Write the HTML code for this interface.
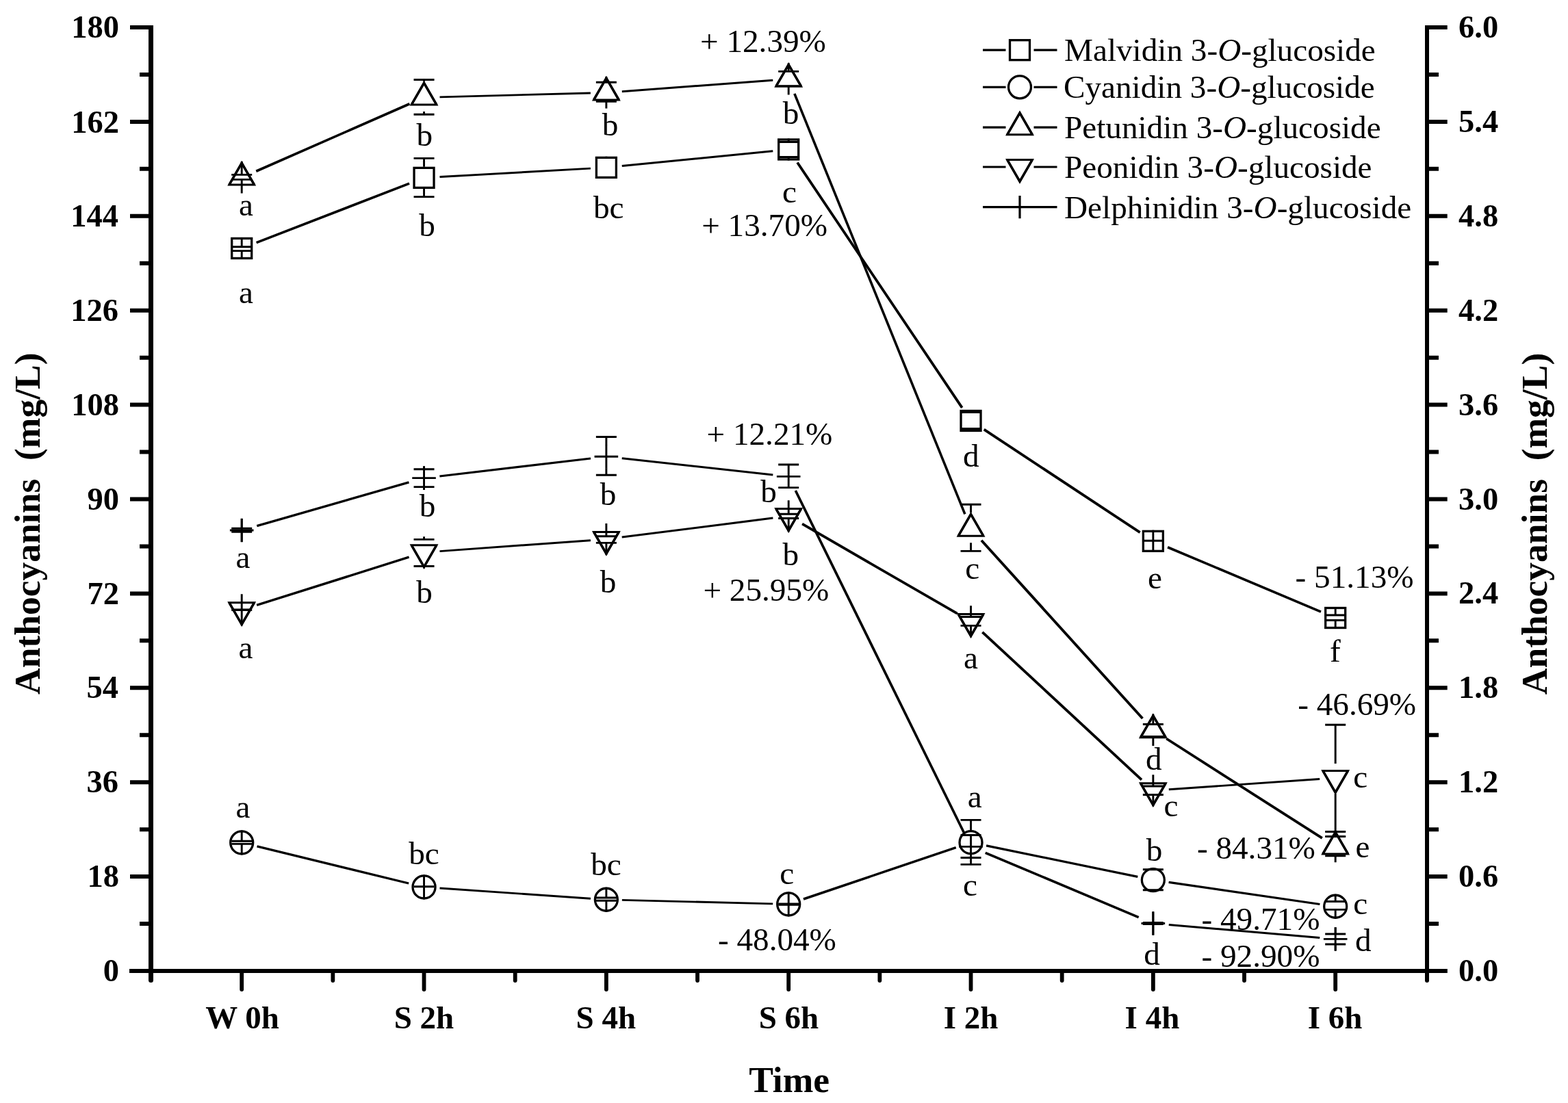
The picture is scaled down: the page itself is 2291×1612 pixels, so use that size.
<!DOCTYPE html>
<html><head><meta charset="utf-8"><title>Anthocyanins chart</title>
<style>html,body{margin:0;padding:0;background:#fff;} svg{display:block;}</style></head>
<body><svg width="2291" height="1612" viewBox="0 0 2291 1612">
<rect width="2291" height="1612" fill="#fff"/>
<g stroke="#000" fill="none">
<path d="M220.5 37V1419" stroke-width="7"/>
<path d="M2085 37V1419" stroke-width="6"/>
<path d="M189 1419H2114.5" stroke-width="6"/>
<path d="M190 40H221M2085 40H2114.7M190 177.9H221M2085 177.9H2114.7M190 315.8H221M2085 315.8H2114.7M190 453.7H221M2085 453.7H2114.7M190 591.6H221M2085 591.6H2114.7M190 729.5H221M2085 729.5H2114.7M190 867.4H221M2085 867.4H2114.7M190 1005.3H221M2085 1005.3H2114.7M190 1143.2H221M2085 1143.2H2114.7M190 1281.1H221M2085 1281.1H2114.7M190 1419H221M2085 1419H2114.7M204 108.95H221M2085 108.95H2102M204 246.85H221M2085 246.85H2102M204 384.75H221M2085 384.75H2102M204 522.65H221M2085 522.65H2102M204 660.55H221M2085 660.55H2102M204 798.45H221M2085 798.45H2102M204 936.35H221M2085 936.35H2102M204 1074.25H221M2085 1074.25H2102M204 1212.15H221M2085 1212.15H2102M204 1350.05H221M2085 1350.05H2102" stroke-width="6"/>
<path d="M353.2 1419V1446M619.53 1419V1446M885.86 1419V1446M1152.19 1419V1446M1418.52 1419V1446M1684.85 1419V1446M1951.18 1419V1446M486.36 1419V1433M752.69 1419V1433M1019.02 1419V1433M1285.35 1419V1433M1551.68 1419V1433M1818.01 1419V1433" stroke-width="5.8" stroke-linecap="round"/>
<path d="M220.5 1419V1432.5" stroke-width="7" stroke-linecap="round"/>
<path d="M2085 1419V1433" stroke-width="6" stroke-linecap="round"/>
</g>
<g stroke="#000" fill="none"><path d="M374.65 354.65L598.08 268.15" stroke-width="3.56"/><path d="M642.49 258.56L862.9 246.14" stroke-width="2.90"/><path d="M908.75 242.58L1129.3 220.72" stroke-width="3.01"/><path d="M1165.01 237.54L1405.7 595.86" stroke-width="3.82"/><path d="M1437.71 627.63L1665.66 778.17" stroke-width="3.81"/><path d="M1706.05 799.78L1929.98 894.07" stroke-width="3.60"/></g>
<g stroke="#000" fill="none"><path d="M375.54 1236.86L597.19 1290.99" stroke-width="3.32"/><path d="M642.48 1298.03L862.91 1313.17" stroke-width="2.93"/><path d="M908.85 1315.32L1129.2 1320.83" stroke-width="2.82"/><path d="M1173.97 1314.02L1396.74 1238.53" stroke-width="3.49"/><path d="M1441.05 1235.8L1662.32 1281.45" stroke-width="3.25"/><path d="M1707.61 1289.4L1928.42 1321.45" stroke-width="3.12"/></g>
<g stroke="#000" fill="none"><path d="M374.26 250.25L598.47 151.75" stroke-width="3.62"/><path d="M642.52 141.89L862.87 136.01" stroke-width="2.82"/><path d="M908.8 133.69L1129.25 117.31" stroke-width="2.95"/><path d="M1160.83 136.92L1409.88 751.38" stroke-width="3.58"/><path d="M1433.95 789.76L1669.42 1050.04" stroke-width="3.88"/><path d="M1704.23 1079.49L1931.8 1224.96" stroke-width="3.80"/></g>
<g stroke="#000" fill="none"><path d="M375.13 884.38L597.6 814.22" stroke-width="3.45"/><path d="M642.47 805.64L862.92 789.66" stroke-width="2.94"/><path d="M908.68 785.1L1129.37 757.1" stroke-width="3.07"/><path d="M1172.1 765.71L1398.61 896.69" stroke-width="3.76"/><path d="M1435.38 923.84L1667.99 1139.66" stroke-width="3.89"/><path d="M1707.8 1153.72L1928.23 1138.58" stroke-width="2.93"/></g>
<g stroke="#000" fill="none"><path d="M375.31 768.66L597.42 704.94" stroke-width="3.40"/><path d="M642.37 695.92L863.02 669.98" stroke-width="3.05"/><path d="M908.72 669.8L1129.33 693.9" stroke-width="3.03"/><path d="M1162.35 717.04L1408.36 1216.76" stroke-width="3.68"/><path d="M1439.72 1246.32L1663.65 1340.58" stroke-width="3.60"/><path d="M1707.77 1351.47L1928.26 1370.43" stroke-width="2.98"/></g>
<rect x="338.7" y="348.45" width="29" height="29" fill="#fff" stroke="#000" stroke-width="3.3"/>
<path d="M353.2 346.95V360.7M353.2 366.6V378.95M338.2 360.7H368.2M338.2 366.6H368.2" stroke="#000" stroke-width="2.9" fill="none"/>
<rect x="605.03" y="245.35" width="29" height="29" fill="#fff" stroke="#000" stroke-width="3.3"/>
<path d="M619.53 231.4V243.85M619.53 275.85V287.6M604.53 231.4H634.53M604.53 287.6H634.53" stroke="#000" stroke-width="2.9" fill="none"/>
<rect x="871.36" y="230.35" width="29" height="29" fill="#fff" stroke="#000" stroke-width="3.3"/>
<path d="M885.86 228.85V230.35M885.86 259.35V260.85M870.86 230.35H900.86M870.86 259.35H900.86" stroke="#000" stroke-width="2.9" fill="none"/>
<rect x="1137.69" y="203.95" width="29" height="29" fill="#fff" stroke="#000" stroke-width="3.3"/>
<path d="M1152.19 202.45V207.5M1152.19 229.5V234.45M1137.19 207.5H1167.19M1137.19 229.5H1167.19" stroke="#000" stroke-width="2.9" fill="none"/>
<rect x="1404.02" y="600.45" width="29" height="29" fill="#fff" stroke="#000" stroke-width="3.3"/>
<path d="M1418.52 598.95V602.5M1418.52 626.5V630.95M1403.52 602.5H1433.52M1403.52 626.5H1433.52" stroke="#000" stroke-width="2.9" fill="none"/>
<rect x="1670.35" y="776.35" width="29" height="29" fill="#fff" stroke="#000" stroke-width="3.3"/>
<path d="M1684.85 774.85V790.3M1684.85 790.3V806.85M1669.85 790.3H1699.85M1669.85 790.3H1699.85" stroke="#000" stroke-width="2.9" fill="none"/>
<rect x="1936.68" y="888.5" width="29" height="29" fill="#fff" stroke="#000" stroke-width="3.3"/>
<path d="M1951.18 887V899M1951.18 906.5V919M1936.18 899H1966.18M1936.18 906.5H1966.18" stroke="#000" stroke-width="2.9" fill="none"/>
<circle cx="353.2" cy="1231.4" r="16.5" fill="#fff" stroke="#000" stroke-width="3.3"/>
<path d="M353.2 1213.4V1229.3M353.2 1233.4V1249.4M338.2 1229.3H368.2M338.2 1233.4H368.2" stroke="#000" stroke-width="2.9" fill="none"/>
<circle cx="619.53" cy="1296.45" r="16.5" fill="#fff" stroke="#000" stroke-width="3.3"/>
<path d="M619.53 1278.45V1295.8M619.53 1295.8V1314.45M604.53 1295.8H634.53M604.53 1295.8H634.53" stroke="#000" stroke-width="2.9" fill="none"/>
<circle cx="885.86" cy="1314.75" r="16.5" fill="#fff" stroke="#000" stroke-width="3.3"/>
<path d="M885.86 1296.75V1312M885.86 1316.2V1332.75M870.86 1312H900.86M870.86 1316.2H900.86" stroke="#000" stroke-width="2.9" fill="none"/>
<circle cx="1152.19" cy="1321.4" r="16.5" fill="#fff" stroke="#000" stroke-width="3.3"/>
<path d="M1152.19 1303.4V1320.9M1152.19 1322.4V1339.4M1137.19 1320.9H1167.19M1137.19 1322.4H1167.19" stroke="#000" stroke-width="2.9" fill="none"/>
<circle cx="1418.52" cy="1231.15" r="16.5" fill="#fff" stroke="#000" stroke-width="3.3"/>
<path d="M1418.52 1198.4V1213.15M1418.52 1249.15V1263.4M1403.52 1198.4H1433.52M1403.52 1263.4H1433.52" stroke="#000" stroke-width="2.9" fill="none"/>
<circle cx="1684.85" cy="1286.1" r="16.5" fill="#fff" stroke="#000" stroke-width="3.3"/>
<path d="M1684.85 1268.1V1270.8M1684.85 1300.8V1304.1M1669.85 1270.8H1699.85M1669.85 1300.8H1699.85" stroke="#000" stroke-width="2.9" fill="none"/>
<circle cx="1951.18" cy="1324.75" r="16.5" fill="#fff" stroke="#000" stroke-width="3.3"/>
<path d="M1951.18 1306.75V1317.5M1951.18 1329.4V1342.75M1936.18 1317.5H1966.18M1936.18 1329.4H1966.18" stroke="#000" stroke-width="2.9" fill="none"/>
<polygon points="353.2,238.3 334.84,270.1 371.56,270.1" fill="#fff" stroke="#000" stroke-width="3" stroke-linejoin="miter" stroke-miterlimit="10"/><path d="M334.84 270.1L353.2 238.3L371.56 270.1" fill="none" stroke="#000" stroke-width="3.5" stroke-linejoin="miter" stroke-miterlimit="10"/>
<path d="M353.2 236V255.4M353.2 262.4V282.5M338.2 255.4H368.2M338.2 262.4H368.2" stroke="#000" stroke-width="2.9" fill="none"/>
<polygon points="619.53,121.3 601.17,153.1 637.89,153.1" fill="#fff" stroke="#000" stroke-width="3" stroke-linejoin="miter" stroke-miterlimit="10"/><path d="M601.17 153.1L619.53 121.3L637.89 153.1" fill="none" stroke="#000" stroke-width="3.5" stroke-linejoin="miter" stroke-miterlimit="10"/>
<path d="M619.53 116.5V119M619.53 163V167.3M604.53 116.5H634.53M604.53 167.3H634.53" stroke="#000" stroke-width="2.9" fill="none"/>
<polygon points="885.86,114.2 867.5,146 904.22,146" fill="#fff" stroke="#000" stroke-width="3" stroke-linejoin="miter" stroke-miterlimit="10"/><path d="M867.5 146L885.86 114.2L904.22 146" fill="none" stroke="#000" stroke-width="3.5" stroke-linejoin="miter" stroke-miterlimit="10"/>
<path d="M885.86 111.9V120.2M885.86 148.2V158.4M870.86 120.2H900.86M870.86 148.2H900.86" stroke="#000" stroke-width="2.9" fill="none"/>
<polygon points="1152.19,94.4 1133.83,126.2 1170.55,126.2" fill="#fff" stroke="#000" stroke-width="3" stroke-linejoin="miter" stroke-miterlimit="10"/><path d="M1133.83 126.2L1152.19 94.4L1170.55 126.2" fill="none" stroke="#000" stroke-width="3.5" stroke-linejoin="miter" stroke-miterlimit="10"/>
<path d="M1152.19 92.1V104.4M1152.19 125.6V138.6M1137.19 104.4H1167.19M1137.19 125.6H1167.19" stroke="#000" stroke-width="2.9" fill="none"/>
<polygon points="1418.52,751.5 1400.16,783.3 1436.88,783.3" fill="#fff" stroke="#000" stroke-width="3" stroke-linejoin="miter" stroke-miterlimit="10"/><path d="M1400.16 783.3L1418.52 751.5L1436.88 783.3" fill="none" stroke="#000" stroke-width="3.5" stroke-linejoin="miter" stroke-miterlimit="10"/>
<path d="M1418.52 737.3V749.2M1418.52 793.2V805.4M1403.52 737.3H1433.52M1403.52 805.4H1433.52" stroke="#000" stroke-width="2.9" fill="none"/>
<polygon points="1684.85,1045.9 1666.49,1077.7 1703.21,1077.7" fill="#fff" stroke="#000" stroke-width="3" stroke-linejoin="miter" stroke-miterlimit="10"/><path d="M1666.49 1077.7L1684.85 1045.9L1703.21 1077.7" fill="none" stroke="#000" stroke-width="3.5" stroke-linejoin="miter" stroke-miterlimit="10"/>
<path d="M1684.85 1043.6V1058.5M1684.85 1076.5V1090.1M1669.85 1058.5H1699.85M1669.85 1076.5H1699.85" stroke="#000" stroke-width="2.9" fill="none"/>
<polygon points="1951.18,1216.15 1932.82,1247.95 1969.54,1247.95" fill="#fff" stroke="#000" stroke-width="3" stroke-linejoin="miter" stroke-miterlimit="10"/><path d="M1932.82 1247.95L1951.18 1216.15L1969.54 1247.95" fill="none" stroke="#000" stroke-width="3.5" stroke-linejoin="miter" stroke-miterlimit="10"/>
<path d="M1951.18 1213.85V1222.5M1951.18 1250.8V1260.35M1936.18 1222.5H1966.18M1936.18 1250.8H1966.18" stroke="#000" stroke-width="2.9" fill="none"/>
<polygon points="353.2,912.5 334.84,880.7 371.56,880.7" fill="#fff" stroke="#000" stroke-width="3" stroke-linejoin="miter" stroke-miterlimit="10"/><path d="M334.84 880.7L353.2 912.5L371.56 880.7" fill="none" stroke="#000" stroke-width="3.5" stroke-linejoin="miter" stroke-miterlimit="10"/>
<path d="M353.2 868.3V891M353.2 891.6V914.3M338.2 891H368.2M338.2 891.6H368.2" stroke="#000" stroke-width="2.9" fill="none"/>
<polygon points="619.53,828.5 601.17,796.7 637.89,796.7" fill="#fff" stroke="#000" stroke-width="3" stroke-linejoin="miter" stroke-miterlimit="10"/><path d="M601.17 796.7L619.53 828.5L637.89 796.7" fill="none" stroke="#000" stroke-width="3.5" stroke-linejoin="miter" stroke-miterlimit="10"/>
<path d="M619.53 784.3V788.4M619.53 827.5V830.3M604.53 788.4H634.53M604.53 827.5H634.53" stroke="#000" stroke-width="2.9" fill="none"/>
<polygon points="885.86,809.2 867.5,777.4 904.22,777.4" fill="#fff" stroke="#000" stroke-width="3" stroke-linejoin="miter" stroke-miterlimit="10"/><path d="M867.5 777.4L885.86 809.2L904.22 777.4" fill="none" stroke="#000" stroke-width="3.5" stroke-linejoin="miter" stroke-miterlimit="10"/>
<path d="M885.86 765V783.7M885.86 793.4V811M870.86 783.7H900.86M870.86 793.4H900.86" stroke="#000" stroke-width="2.9" fill="none"/>
<polygon points="1152.19,775.4 1133.83,743.6 1170.55,743.6" fill="#fff" stroke="#000" stroke-width="3" stroke-linejoin="miter" stroke-miterlimit="10"/><path d="M1133.83 743.6L1152.19 775.4L1170.55 743.6" fill="none" stroke="#000" stroke-width="3.5" stroke-linejoin="miter" stroke-miterlimit="10"/>
<path d="M1152.19 731.2V751.3M1152.19 757.5V777.2M1137.19 751.3H1167.19M1137.19 757.5H1167.19" stroke="#000" stroke-width="2.9" fill="none"/>
<polygon points="1418.52,929.4 1400.16,897.6 1436.88,897.6" fill="#fff" stroke="#000" stroke-width="3" stroke-linejoin="miter" stroke-miterlimit="10"/><path d="M1400.16 897.6L1418.52 929.4L1436.88 897.6" fill="none" stroke="#000" stroke-width="3.5" stroke-linejoin="miter" stroke-miterlimit="10"/>
<path d="M1418.52 885.2V901.5M1418.52 914.4V931.2M1403.52 901.5H1433.52M1403.52 914.4H1433.52" stroke="#000" stroke-width="2.9" fill="none"/>
<polygon points="1684.85,1176.5 1666.49,1144.7 1703.21,1144.7" fill="#fff" stroke="#000" stroke-width="3" stroke-linejoin="miter" stroke-miterlimit="10"/><path d="M1666.49 1144.7L1684.85 1176.5L1703.21 1144.7" fill="none" stroke="#000" stroke-width="3.5" stroke-linejoin="miter" stroke-miterlimit="10"/>
<path d="M1684.85 1132.3V1149M1684.85 1161.5V1178.3M1669.85 1149H1699.85M1669.85 1161.5H1699.85" stroke="#000" stroke-width="2.9" fill="none"/>
<polygon points="1951.18,1158.2 1932.82,1126.4 1969.54,1126.4" fill="#fff" stroke="#000" stroke-width="3" stroke-linejoin="miter" stroke-miterlimit="10"/><path d="M1932.82 1126.4L1951.18 1158.2L1969.54 1126.4" fill="none" stroke="#000" stroke-width="3.5" stroke-linejoin="miter" stroke-miterlimit="10"/>
<path d="M1951.18 1059.2V1116M1951.18 1160V1215.5M1936.18 1059.2H1966.18M1936.18 1215.5H1966.18" stroke="#000" stroke-width="2.9" fill="none"/>
<path d="M335.9 775H370.5M353.2 757.7V792.3" stroke="#000" stroke-width="2.9" fill="none"/>
<path d="M353.2 758V772.3M353.2 777.3V792M338.2 772.3H368.2M338.2 777.3H368.2" stroke="#000" stroke-width="2.9" fill="none"/>
<path d="M602.23 698.6H636.83M619.53 681.3V715.9" stroke="#000" stroke-width="2.9" fill="none"/>
<path d="M619.53 681.6V685.7M619.53 711.6V715.6M604.53 685.7H634.53M604.53 711.6H634.53" stroke="#000" stroke-width="2.9" fill="none"/>
<path d="M868.56 667.3H903.16M885.86 650V684.6" stroke="#000" stroke-width="2.9" fill="none"/>
<path d="M885.86 638.5V650.3M885.86 684.3V694.2M870.86 638.5H900.86M870.86 694.2H900.86" stroke="#000" stroke-width="2.9" fill="none"/>
<path d="M1134.89 696.4H1169.49M1152.19 679.1V713.7" stroke="#000" stroke-width="2.9" fill="none"/>
<path d="M1152.19 679V679.4M1152.19 712.6V713.4M1137.19 679H1167.19M1137.19 712.6H1167.19" stroke="#000" stroke-width="2.9" fill="none"/>
<path d="M1401.22 1237.4H1435.82M1418.52 1220.1V1254.7" stroke="#000" stroke-width="2.9" fill="none"/>
<path d="M1418.52 1220.4V1220.5M1418.52 1253.5V1254.4M1403.52 1220.5H1433.52M1403.52 1253.5H1433.52" stroke="#000" stroke-width="2.9" fill="none"/>
<path d="M1667.55 1349.5H1702.15M1684.85 1332.2V1366.8" stroke="#000" stroke-width="2.9" fill="none"/>
<path d="M1684.85 1332.5V1348.5M1684.85 1350.5V1366.5M1669.85 1348.5H1699.85M1669.85 1350.5H1699.85" stroke="#000" stroke-width="2.9" fill="none"/>
<path d="M1933.88 1372.4H1968.48M1951.18 1355.1V1389.7" stroke="#000" stroke-width="2.9" fill="none"/>
<path d="M1951.18 1355.4V1365M1951.18 1380V1389.4M1936.18 1365H1966.18M1936.18 1380H1966.18" stroke="#000" stroke-width="2.9" fill="none"/>
<path d="M1436 73.2H1469.5M1510.5 73.2H1544.5" stroke="#000" stroke-width="3.2"/>
<rect x="1475.5" y="58.7" width="29" height="29" fill="#fff" stroke="#000" stroke-width="3.3"/>
<path d="M1436 127.3H1469.5M1510.5 127.3H1544.5" stroke="#000" stroke-width="3.2"/>
<circle cx="1490" cy="127.3" r="16.5" fill="#fff" stroke="#000" stroke-width="3.3"/>
<path d="M1436 186.2H1469.5M1510.5 186.2H1544.5" stroke="#000" stroke-width="3.2"/>
<polygon points="1490,165 1471.64,196.8 1508.36,196.8" fill="#fff" stroke="#000" stroke-width="3" stroke-linejoin="miter" stroke-miterlimit="10"/><path d="M1471.64 196.8L1490 165L1508.36 196.8" fill="none" stroke="#000" stroke-width="3.5" stroke-linejoin="miter" stroke-miterlimit="10"/>
<path d="M1436 244H1469.5M1510.5 244H1544.5" stroke="#000" stroke-width="3.2"/>
<polygon points="1490,265.2 1471.64,233.4 1508.36,233.4" fill="#fff" stroke="#000" stroke-width="3" stroke-linejoin="miter" stroke-miterlimit="10"/><path d="M1471.64 233.4L1490 265.2L1508.36 233.4" fill="none" stroke="#000" stroke-width="3.5" stroke-linejoin="miter" stroke-miterlimit="10"/>
<path d="M1436 302.7H1544.5M1490 286.1V319.3" stroke="#000" stroke-width="3.2"/>
<g font-family="Liberation Serif, serif" font-weight="bold" font-size="46.5">
<text x="174" y="54.7" text-anchor="end">180</text>
<text x="174" y="193.5" text-anchor="end">162</text>
<text x="173" y="331.3" text-anchor="end">144</text>
<text x="173" y="469.1" text-anchor="end">126</text>
<text x="174" y="606.9" text-anchor="end">108</text>
<text x="174" y="744.7" text-anchor="end">90</text>
<text x="174" y="882.5" text-anchor="end">72</text>
<text x="173" y="1020.3" text-anchor="end">54</text>
<text x="173" y="1158.1" text-anchor="end">36</text>
<text x="174" y="1295.9" text-anchor="end">18</text>
<text x="174" y="1433.7" text-anchor="end">0</text>
<text x="2131" y="54.5">6.0</text>
<text x="2131" y="193.3">5.4</text>
<text x="2131" y="331.1">4.8</text>
<text x="2131" y="468.9">4.2</text>
<text x="2131" y="606.7">3.6</text>
<text x="2131" y="744.5">3.0</text>
<text x="2131" y="882.3">2.4</text>
<text x="2131" y="1020.1">1.8</text>
<text x="2131" y="1157.9">1.2</text>
<text x="2131" y="1295.7">0.6</text>
<text x="2131" y="1433.5">0.0</text>
</g>
<g font-family="Liberation Serif, serif" font-weight="bold" font-size="47" text-anchor="middle">
<text x="354.05" y="1503">W 0h</text>
<text x="619.43" y="1503">S 2h</text>
<text x="885.36" y="1503">S 4h</text>
<text x="1152.49" y="1503">S 6h</text>
<text x="1418.52" y="1503">I 2h</text>
<text x="1683.45" y="1503">I 4h</text>
<text x="1950.68" y="1503">I 6h</text>
</g>
<text x="1153.1" y="1596.4" font-family="Liberation Serif, serif" font-weight="bold" font-size="53.5" text-anchor="middle">Time</text>
<text transform="translate(58.4 1014.9) rotate(-90)" font-family="Liberation Serif, serif" font-weight="bold" font-size="53.5" xml:space="preserve" style="white-space:pre">Anthocyanins  (mg/L)</text>
<text transform="translate(2260 1015.2) rotate(-90)" font-family="Liberation Serif, serif" font-weight="bold" font-size="53.5" xml:space="preserve" style="white-space:pre">Anthocyanins  (mg/L)</text>
<g font-family="Liberation Serif, serif" font-size="47.2" text-anchor="middle">
<text x="359.4" y="443.3">a</text>
<text x="624" y="344.5">b</text>
<text x="889.3" y="319.1">bc</text>
<text x="1153.6" y="296.1">c</text>
<text x="1418.8" y="681.7">d</text>
<text x="1687.5" y="859.5">e</text>
<text x="1950.8" y="966.9">f</text>
<text x="359.4" y="315.3">a</text>
<text x="620.3" y="213.3">b</text>
<text x="891.5" y="197.5">b</text>
<text x="1155.6" y="180.5">b</text>
<text x="1420.7" y="846.1">c</text>
<text x="1685.9" y="1124.5">d</text>
<text x="1991" y="1253.1">e</text>
<text x="359" y="961.5">a</text>
<text x="620.1" y="881.3">b</text>
<text x="888.5" y="865.7">b</text>
<text x="1155.3" y="825.7">b</text>
<text x="1418.6" y="977.3">a</text>
<text x="1711" y="1193.3">c</text>
<text x="1987.7" y="1150.7">c</text>
<text x="355" y="829.7">a</text>
<text x="624.5" y="755.1">b</text>
<text x="888.5" y="738.1">b</text>
<text x="1123.1" y="733.7">b</text>
<text x="1417.5" y="1308.7">c</text>
<text x="1683.1" y="1410.1">d</text>
<text x="1991.7" y="1389.7">d</text>
<text x="355" y="1194.5">a</text>
<text x="619.5" y="1262.9">bc</text>
<text x="885.4" y="1278.5">bc</text>
<text x="1149.7" y="1291.9">c</text>
<text x="1424.2" y="1180.1">a</text>
<text x="1686.6" y="1258.3">b</text>
<text x="1987.8" y="1336.3">c</text>
</g>
<g font-family="Liberation Serif, serif" font-size="47.2" xml:space="preserve" style="white-space:pre">
<text x="1023" y="75.9">+ 12.39%</text>
<text x="1025.2" y="344.5">+ 13.70%</text>
<text x="1032.5" y="649.5">+ 12.21%</text>
<text x="1027.4" y="877.9">+ 25.95%</text>
<text x="1048.95" y="1388.7">- 48.04%</text>
<text x="1892.55" y="858.7">- 51.13%</text>
<text x="1896.2" y="1045.1">- 46.69%</text>
<text x="1748.9" y="1255.1">- 84.31%</text>
<text x="1755.5" y="1359.3">- 49.71%</text>
<text x="1755.5" y="1412.7">- 92.90%</text>
</g>
<text x="1555" y="89" font-family="Liberation Serif, serif" font-size="47.2">Malvidin 3-<tspan font-style="italic">O</tspan>-glucoside</text>
<text x="1554" y="143.1" font-family="Liberation Serif, serif" font-size="47.2">Cyanidin 3-<tspan font-style="italic">O</tspan>-glucoside</text>
<text x="1555" y="202" font-family="Liberation Serif, serif" font-size="47.2">Petunidin 3-<tspan font-style="italic">O</tspan>-glucoside</text>
<text x="1555" y="259.8" font-family="Liberation Serif, serif" font-size="47.2">Peonidin 3-<tspan font-style="italic">O</tspan>-glucoside</text>
<text x="1555" y="318.5" font-family="Liberation Serif, serif" font-size="47.2">Delphinidin 3-<tspan font-style="italic">O</tspan>-glucoside</text>
</svg></body></html>
